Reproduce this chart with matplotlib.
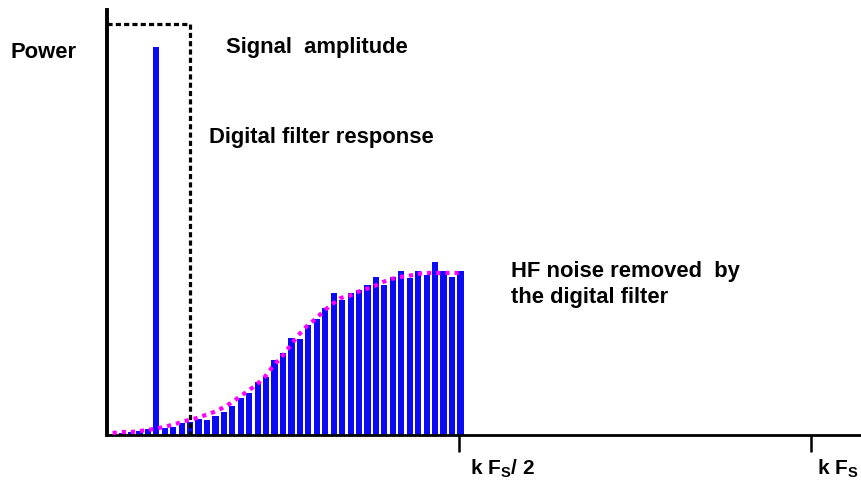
import numpy as np
import matplotlib
matplotlib.use("Agg")
import matplotlib.pyplot as plt

plt.rcParams['font.family'] = ['Liberation Sans', 'DejaVu Sans']
plt.rcParams['mathtext.fontset'] = 'custom'
plt.rcParams['mathtext.rm'] = 'Liberation Sans:bold'
plt.rcParams['mathtext.bf'] = 'Liberation Sans:bold'

# frequency bins (fraction of k*Fs), last bin sits on k*Fs/2
bin_step = 0.012
freq = 0.5 - bin_step * np.arange(41, -1, -1)

# noise power per bin (bin 5 carries the signal)
power = [1, 2, 3, 4, 6, 388, 7, 8, 12, 13, 16, 15, 19, 23, 29, 37, 42, 53, 58, 75, 82,
         97, 96, 110, 116, 127, 142, 135, 142, 145, 150, 158, 150, 158, 164, 157,
         164, 160, 173, 164, 158, 164]
# average noise level (magenta dotted curve)
noise_mean = [2, 3, 3, 3.5, 5, 6, 8, 10, 12.5, 15, 17, 20, 23, 27, 32, 38, 44, 50, 58,
              69, 78, 89, 100, 109, 116, 124, 131, 137, 139, 143, 146, 149, 153, 156,
              158, 159, 161, 162, 162, 162, 162, 162]

filter_cutoff = 0.118
filter_gain = 411

tick_pos = [0.5, 1.0]

fig = plt.figure(figsize=(8.61, 4.87), dpi=100)
ax = fig.add_axes([0.1243, 0.1068, 0.8757, 0.8727])

ax.bar(freq + 0.002, power, width=0.0088, color='#0a0af5', zorder=2)
ax.plot(freq, noise_mean, color='#ff00ff', lw=3.0, ls=(0, (1.0, 1.2)), zorder=3)
ax.plot([0, filter_cutoff, filter_cutoff], [filter_gain, filter_gain, 0],
        color='black', lw=2.3, ls=(0, (1.6, 1.0)), zorder=4)

ax.set_xlim(0, 754 / 704)
ax.set_ylim(0, 425)
for s in ['top', 'right']:
    ax.spines[s].set_visible(False)
ax.spines['left'].set_linewidth(2.8)
ax.spines['bottom'].set_linewidth(2.0)
ax.set_yticks([])
ax.set_xticks(tick_pos)
ax.set_xticklabels([])
ax.tick_params(axis='x', direction='out', length=12, width=1.8, color='black')

bold = dict(fontsize=15.8, fontweight='bold', va='center', ha='left')
fig.text(10 / 861, 1 - 52 / 487, 'Power', **bold)
fig.text(226 / 861, 1 - 48 / 487, 'Signal  amplitude', **bold)
fig.text(209 / 861, 1 - 137 / 487, 'Digital filter response', **bold)
fig.text(511 / 861, 1 - 271 / 487, 'HF noise removed  by', **bold)
fig.text(511 / 861, 1 - 297 / 487, 'the digital filter', **bold)

ax.annotate(r'k F$_{\mathrm{S}}$/ 2', xy=(0.5, 0), xycoords=('data', 'axes fraction'),
            xytext=(8, -24), textcoords='offset points', fontsize=15, fontweight='bold',
            ha='left', va='center')
ax.annotate(r'k F$_{\mathrm{S}}$', xy=(1.0, 0), xycoords=('data', 'axes fraction'),
            xytext=(4, -24), textcoords='offset points', fontsize=15, fontweight='bold',
            ha='left', va='center')

fig.savefig('out.png', dpi=100)
